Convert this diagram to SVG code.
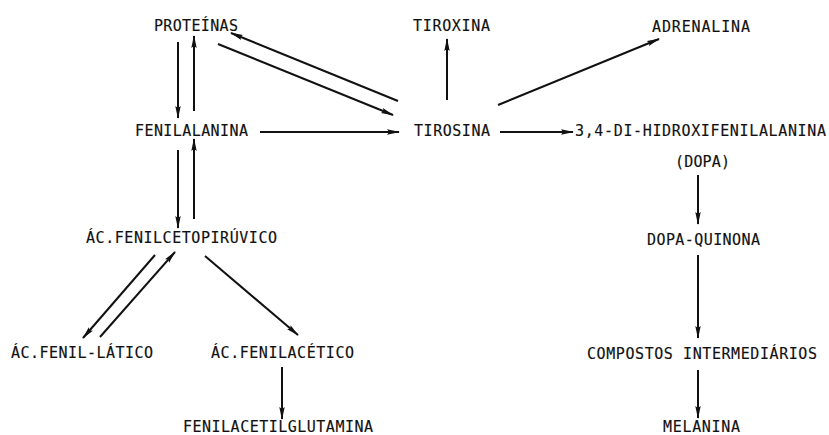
<svg xmlns="http://www.w3.org/2000/svg" width="829" height="435" viewBox="0 0 829 435">
  <defs>
    <marker id="head" viewBox="0 0 13 6" refX="12" refY="3" markerWidth="13" markerHeight="6" markerUnits="userSpaceOnUse" orient="auto">
      <path d="M0,0.3 L13,3 L0,5.7 L2,3 Z" fill="#111"/>
    </marker>
    <style>
      text { font-family: "DejaVu Sans Mono", "Liberation Mono", monospace; font-size: 15px; fill: #111; stroke: #111; stroke-width: 0.15; }
      .conn line { stroke: #111; stroke-width: 2; marker-end: url(#head); }
    </style>
  </defs>
  <rect width="829" height="435" fill="#fff"/>

  <g id="proteinas"><text x="154" y="31" textLength="84" lengthAdjust="spacing">PROTEÍNAS</text></g>
  <g id="tiroxina"><text x="413" y="31" textLength="77" lengthAdjust="spacing">TIROXINA</text></g>
  <g id="adrenalina"><text x="652" y="32" textLength="98" lengthAdjust="spacing">ADRENALINA</text></g>
  <g id="fenilalanina"><text x="135" y="136" textLength="113" lengthAdjust="spacing">FENILALANINA</text></g>
  <g id="tirosina"><text x="414" y="136" textLength="76" lengthAdjust="spacing">TIROSINA</text></g>
  <g id="dopa">
    <text x="575" y="136" textLength="251" lengthAdjust="spacing">3,4-DI-HIDROXIFENILALANINA</text>
    <text x="675" y="167" textLength="55" lengthAdjust="spacing">(DOPA)</text>
  </g>
  <g id="dopa-quinona"><text x="647" y="245" textLength="113" lengthAdjust="spacing">DOPA-QUINONA</text></g>
  <g id="compostos"><text x="587" y="359" textLength="230" lengthAdjust="spacing">COMPOSTOS INTERMEDIÁRIOS</text></g>
  <g id="melanina"><text x="663" y="432" textLength="77" lengthAdjust="spacing">MELANINA</text></g>
  <g id="fenilcetopiruvico"><text x="86" y="243" textLength="191" lengthAdjust="spacing">ÁC.FENILCETOPIRÚVICO</text></g>
  <g id="fenil-latico"><text x="11" y="358" textLength="142" lengthAdjust="spacing">ÁC.FENIL-LÁTICO</text></g>
  <g id="fenilacetico"><text x="211" y="358" textLength="143" lengthAdjust="spacing">ÁC.FENILACÉTICO</text></g>
  <g id="fenilacetilglutamina"><text x="183" y="432" textLength="190" lengthAdjust="spacing">FENILACETILGLUTAMINA</text></g>

  <g class="conn">
    <line x1="178" y1="42" x2="178" y2="118"/>
    <line x1="194" y1="111" x2="194" y2="36"/>
    <line x1="398" y1="101" x2="231" y2="33"/>
    <line x1="218" y1="44" x2="393" y2="115"/>
    <line x1="260" y1="132" x2="399" y2="132"/>
    <line x1="178" y1="150" x2="178" y2="228"/>
    <line x1="194" y1="219" x2="194" y2="139"/>
    <line x1="447" y1="100" x2="447" y2="39"/>
    <line x1="498" y1="105" x2="659" y2="39"/>
    <line x1="500" y1="132" x2="573" y2="132"/>
    <line x1="698" y1="175" x2="698" y2="224"/>
    <line x1="698" y1="255" x2="698" y2="338"/>
    <line x1="698" y1="370" x2="698" y2="418"/>
    <line x1="155" y1="255" x2="83" y2="338"/>
    <line x1="100" y1="337" x2="175" y2="252"/>
    <line x1="205" y1="256" x2="298" y2="335"/>
    <line x1="282" y1="367" x2="282" y2="419"/>
  </g>
</svg>
